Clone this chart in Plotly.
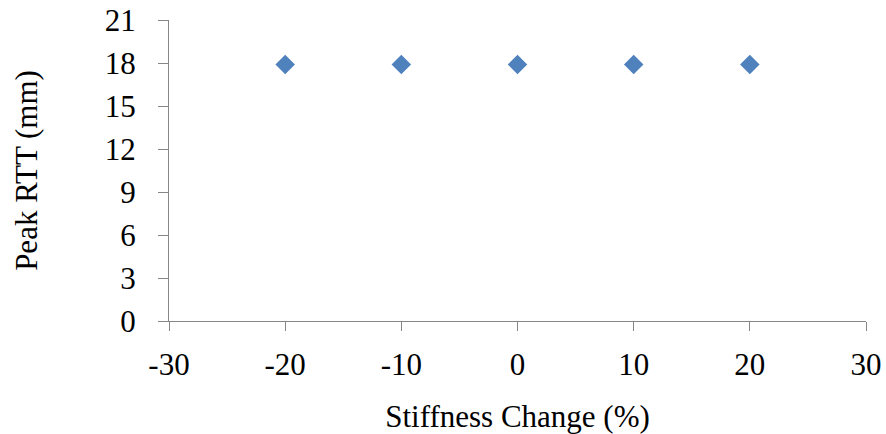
import plotly.graph_objects as go

stiffness_change = [-20, -10, 0, 10, 20]
peak_rtt = [17.9, 17.9, 17.9, 17.9, 17.9]
x_ticks = [-30, -20, -10, 0, 10, 20, 30]
y_ticks = [0, 3, 6, 9, 12, 15, 18, 21]

font_family = "Liberation Serif, Times New Roman, serif"
axis_color = "#878787"

fig = go.Figure()
fig.add_trace(go.Scatter(
    x=stiffness_change, y=peak_rtt, mode="markers",
    marker=dict(symbol="diamond", size=15, color="#4F81BD"),
    showlegend=False,
))

fig.update_layout(
    width=886, height=434,
    margin=dict(l=169, r=20, t=20, b=113),
    paper_bgcolor="white", plot_bgcolor="white",
    font=dict(family=font_family, size=31, color="black"),
)
fig.update_xaxes(
    range=[-30, 30], tickvals=x_ticks, ticktext=[str(v) for v in x_ticks],
    showgrid=False, zeroline=False, automargin=False,
    showline=True, linecolor=axis_color, linewidth=1,
    ticks="outside", ticklen=9, tickcolor=axis_color, tickwidth=1,
    ticklabelstandoff=7, ticklabeloverflow="allow",
    title=dict(text="Stiffness Change (%)", standoff=28,
               font=dict(family=font_family, size=31)),
)
fig.update_yaxes(
    range=[0, 21], tickvals=y_ticks, ticktext=[str(v) for v in y_ticks],
    showgrid=False, zeroline=False, automargin=False,
    showline=True, linecolor=axis_color, linewidth=1,
    ticks="outside", ticklen=10, tickcolor=axis_color, tickwidth=1,
    ticklabelstandoff=16, ticklabeloverflow="allow",
    title=dict(text="Peak RTT (mm)", standoff=57,
               font=dict(family=font_family, size=31)),
)

fig.write_html(
    "out.html",
    config={"displayModeBar": False},
    post_script="document.body.style.margin='0';document.body.style.overflow='hidden';",
)
